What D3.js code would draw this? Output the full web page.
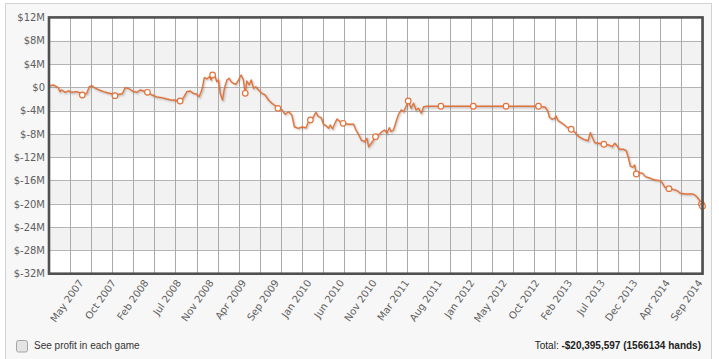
<!DOCTYPE html>
<html><head><meta charset="utf-8">
<script src="https://cdn.jsdelivr.net/npm/d3@7/dist/d3.min.js"></script>
<style>body{margin:0;background:#fff;}svg{display:block;}</style>
</head><body>
<svg id="chart" width="719" height="359"></svg>
<script>
// ---- data (session index along the x axis, cumulative profit in $M) ----
const sessionIdx = [0,2.0,4.4,5.2,6.0,7.6,9.2,10.8,13.1,14.7,15.8,17.9,19.1,20.3,21.5,23.4,25.8,28.1,29.8,31.3,33.2,34.8,36.1,37.6,39.5,41.6,43.2,44.8,46.7,48.8,51.1,53.5,55.9,57.4,59.8,62.2,63.8,65.4,66.9,68.5,70.1,71.2,72.5,73.7,74.9,76.0,76.9,77.6,78.8,79.6,80.4,81.2,82.3,83.2,84.4,85.4,86.4,87.5,88.6,89.9,91.1,92.2,93.1,93.8,94.9,95.9,97.0,98.1,99.4,101.0,102.5,104.1,105.7,107.3,108.6,110.5,112.0,113.6,115.2,116.4,118.3,119.9,121.9,123.1,124.0,125.5,126.6,127.8,129.1,130.2,131.4,132.6,133.4,134.5,135.4,136.6,138.1,139.5,142.1,144.5,145.6,146.8,148.1,149.7,150.8,151.6,152.9,153.9,154.9,156.3,157.9,159.2,160.3,161.4,162.3,163.4,164.6,165.8,167.1,168.2,169.3,170.4,171.8,172.9,174.1,175.3,176.6,177.7,179.3,185.9,201.3,216.8,232.2,235.5,236.7,237.4,238.6,239.9,240.5,241.5,243.4,245.8,247.7,249.7,251.3,253.6,255.7,256.8,257.9,258.9,260.8,263.2,265.5,267.1,268.4,269.5,270.6,272.6,273.8,274.7,275.8,276.9,277.8,278.6,280.1,281.6,282.9,285.3,287.6,290.0,290.8,292.1,294.1,295.9,298.0,299.5,301.9,305.1,306.3,307.5,309.0,309.5,310];
const profitM = [0.25,0.40,-0.07,-0.75,-0.47,-0.86,-0.63,-0.86,-0.75,-0.98,-1.32,-1.03,0.10,0.28,-0.07,-0.42,-0.75,-0.98,-1.10,-1.44,-1.20,-1.10,-0.07,-0.17,-0.63,-0.86,-0.47,-0.63,-0.86,-1.32,-1.66,-1.78,-2.01,-2.13,-2.23,-2.35,-1.78,-0.75,-0.63,-1.03,-1.20,-1.62,-0.47,1.65,1.43,1.82,1.25,2.11,1.82,0.96,1.25,-1.03,-2.18,-0.17,1.25,1.55,0.96,0.68,0.52,1.25,2.11,1.25,-1.03,1.08,0.40,1.25,-0.17,0.10,-0.47,-1.03,-1.32,-2.18,-2.74,-3.16,-3.61,-3.89,-4.64,-4.19,-4.76,-6.77,-7.04,-6.82,-6.94,-5.91,-5.61,-5.04,-4.29,-5.04,-5.22,-6.35,-6.59,-7.04,-6.47,-7.16,-6.35,-5.44,-5.91,-6.18,-6.35,-6.35,-7.33,-8.07,-9.05,-9.34,-8.75,-10.20,-9.61,-9.05,-8.48,-8.19,-7.62,-7.33,-7.90,-6.94,-7.62,-7.33,-5.91,-4.64,-3.89,-4.19,-3.33,-2.35,-3.61,-2.74,-3.89,-3.61,-4.46,-3.33,-3.25,-3.25,-3.25,-3.25,-3.25,-3.43,-4.19,-5.15,-5.49,-5.32,-4.92,-5.73,-6.18,-6.87,-7.20,-7.79,-8.48,-8.93,-9.17,-7.79,-8.75,-9.51,-9.61,-9.78,-9.90,-10.20,-9.61,-10.08,-10.64,-10.64,-10.88,-11.91,-13.51,-13.74,-13.34,-14.88,-14.66,-14.77,-15.34,-15.62,-15.92,-16.03,-16.37,-17.16,-17.40,-17.51,-17.75,-18.19,-18.31,-18.31,-18.48,-18.88,-19.63,-20.05,-20.40];
const tickLabels = ["May 2007","Oct 2007","Feb 2008","Jul 2008","Nov 2008","Apr 2009","Sep 2009","Jan 2010","Jun 2010","Nov 2010","Mar 2011","Aug 2011","Jan 2012","May 2012","Oct 2012","Feb 2013","Jul 2013","Dec 2013","Apr 2014","Sep 2014"];
const tickIdx = [15.8,31.3,46.7,62.2,77.6,93.1,108.6,124.0,139.5,154.9,170.4,185.9,201.3,216.8,232.2,247.7,263.2,278.6,294.1,309.5];
const markerIdx = tickIdx.concat([310]);
const yTicks = [12,8,4,0,-4,-8,-12,-16,-20,-24,-28,-32];
const gridIdx = d3.range(0, 311, 10);
const totalText = "-$20,395,597 (1566134 hands)";
const checkboxText = "See profit in each game";

// ---- layout ----
const svg = d3.select("#chart");
const P = {l:49, r:702.5, t:17.4, b:273.7};
const x = d3.scaleLinear().domain([0,310]).range([P.l, P.r]);
const y = d3.scaleLinear().domain([-32,12]).range([P.b, P.t]);
const orange = "#e4733a";
const data = sessionIdx.map((s,i)=>({s, v:profitM[i]}));

// container
svg.append("rect").attr("x",5.5).attr("y",3.5).attr("width",706).attr("height",400)
  .attr("fill","#f7f7f7").attr("stroke","#d3d3d3");

// plot background + bands
svg.append("rect").attr("x",P.l).attr("y",P.t).attr("width",P.r-P.l).attr("height",P.b-P.t).attr("fill","#fff");
for (let i=0;i<yTicks.length-1;i++){
  if (i%2===1){
    svg.append("rect").attr("x",P.l).attr("width",P.r-P.l)
      .attr("y",y(yTicks[i])).attr("height",y(yTicks[i+1])-y(yTicks[i])).attr("fill","#f2f2f2");
  }
}
// grid
svg.append("g").selectAll("line").data(yTicks).join("line")
  .attr("x1",P.l).attr("x2",P.r).attr("y1",d=>Math.round(y(d))+0.5).attr("y2",d=>Math.round(y(d))+0.5)
  .attr("stroke","#b4b4b4").attr("stroke-width",1);
svg.append("g").selectAll("line").data(gridIdx).join("line")
  .attr("y1",P.t).attr("y2",P.b).attr("x1",d=>Math.round(x(d))+0.5).attr("x2",d=>Math.round(x(d))+0.5)
  .attr("stroke","#aaaaaa").attr("stroke-width",1);

// line with shadow
const line = d3.line().x(d=>x(d.s)).y(d=>y(d.v));
const sh = svg.append("g").attr("transform","translate(1,1)");
[[5,0.03],[3,0.06],[1,0.1]].forEach(([w,o])=>{
  sh.append("path").datum(data).attr("d",line).attr("fill","none")
    .attr("stroke","#000").attr("stroke-opacity",o).attr("stroke-width",w).attr("stroke-linejoin","round");
});
svg.append("path").datum(data).attr("d",line).attr("fill","none")
  .attr("stroke",orange).attr("stroke-width",1.4).attr("stroke-linejoin","round");

// markers
const mk = data.filter(d=>markerIdx.includes(d.s));
svg.append("g").selectAll("circle").data(mk).join("circle")
  .attr("cx",d=>x(d.s)).attr("cy",d=>y(d.v)).attr("r",2.8)
  .attr("fill","#fff").attr("stroke",orange).attr("stroke-width",1.2);

// border
svg.append("rect").attr("x",P.l).attr("y",P.t).attr("width",P.r-P.l).attr("height",P.b-P.t)
  .attr("fill","none").attr("stroke","#505050").attr("stroke-width",2.6);

// y axis
const ya = svg.append("g").attr("transform",`translate(${P.l},0)`)
  .call(d3.axisLeft(y).tickValues(yTicks).tickSize(0).tickPadding(4)
    .tickFormat(d=> d===0 ? "$0" : "$"+d+"M"));
ya.select(".domain").remove();
ya.selectAll("text").attr("fill","#606060").style("font-family","DejaVu Sans, Verdana, sans-serif").style("font-size","10px");

// x axis
const xa = svg.append("g").attr("transform",`translate(0,${P.b})`)
  .call(d3.axisBottom(x).tickValues(tickIdx).tickSize(0).tickFormat((d,i)=>tickLabels[i]));
xa.select(".domain").remove();
xa.selectAll("text").attr("x",0).attr("y",0).attr("dy",0).attr("text-anchor","end")
  .attr("transform","translate(1,9) rotate(-55)")
  .attr("fill","#606060").style("font-family","DejaVu Sans, Verdana, sans-serif").style("font-size","10px");

// footer
svg.append("rect").attr("x",16.5).attr("y",340.5).attr("width",11).attr("height",11.5).attr("rx",2)
  .attr("fill","#e4e4e4").attr("stroke","#a5a5a5");
svg.append("text").attr("x",34).attr("y",349).text(checkboxText)
  .attr("fill","#333").style("font-family","Liberation Sans, Arial, sans-serif").style("font-size","10px");
const t = svg.append("text").attr("x",701).attr("y",349).attr("text-anchor","end")
  .attr("fill","#222").style("font-family","Liberation Sans, Arial, sans-serif").style("font-size","10px");
t.append("tspan").text("Total: ");
t.append("tspan").attr("font-weight","bold").text(totalText);
</script>
</body></html>
